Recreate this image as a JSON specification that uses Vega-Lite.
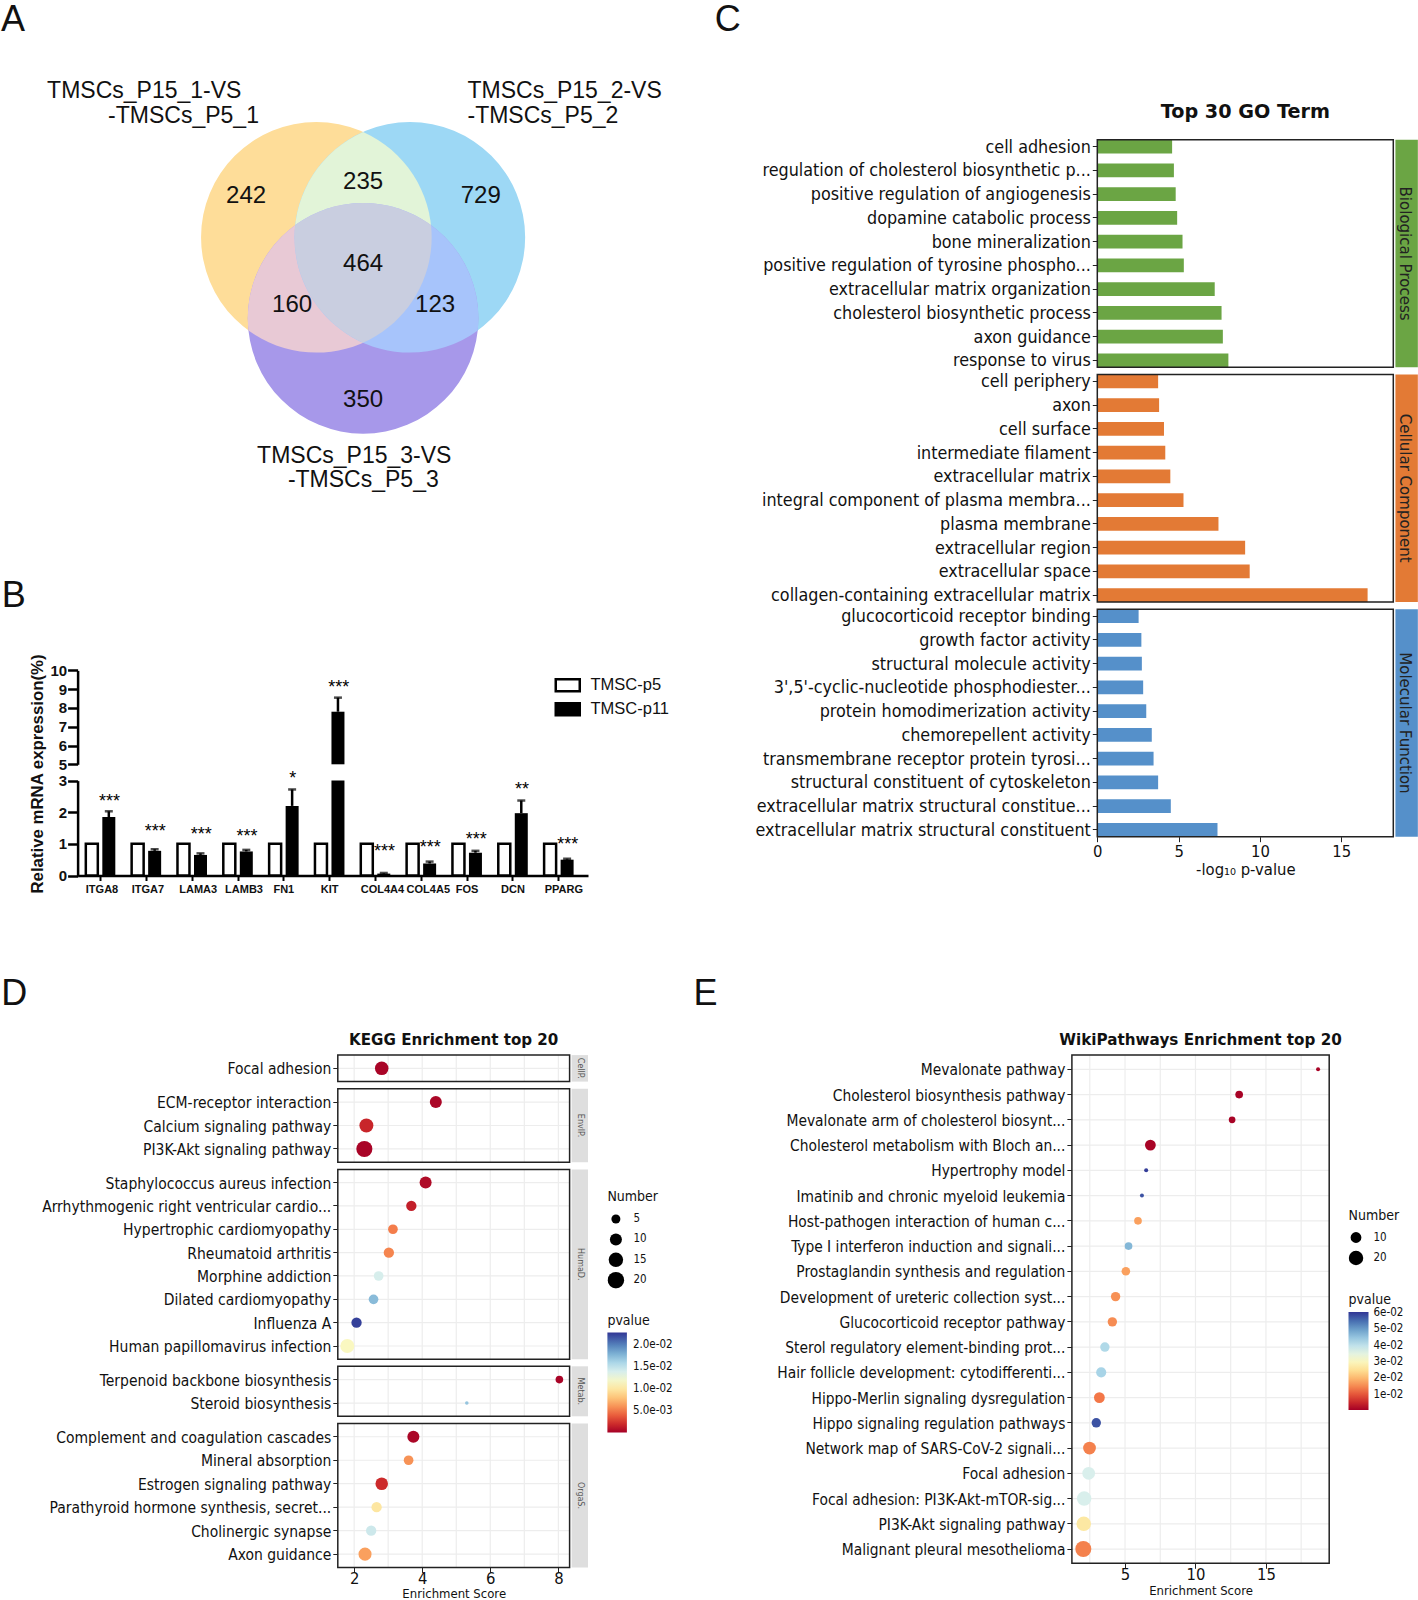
{
"$schema":"https://vega.github.io/schema/vega-lite/v6.json",
"width":1418,"height":1600,"padding":0,"autosize":{"type":"none"},"background":"white",
"config":{"view":{"stroke":null},
 "axis":{"grid":false,"domain":false,"labelFont":"DejaVu Sans Condensed","titleFont":"DejaVu Sans Condensed","labelFontSize":16.5,"titleFontSize":16.5,"titleFontWeight":"normal","labelColor":"#111","titleColor":"#111","tickColor":"#222","labelLimit":0,"labelOverlap":false,"labelFlush":false,"labelPadding":2,"tickSize":5},
 "axisY":{"labelOffset":1,"labelFontSize":17.8},
 "legend":{"labelFont":"DejaVu Sans Condensed","titleFont":"DejaVu Sans Condensed","labelColor":"#111","titleColor":"#111","titleFontWeight":"normal","titleFontSize":14,"labelFontSize":11.5}},
"datasets":{
 "page":[{"panel":"A","col":0.0092,"row":0.0125},{"panel":"B","col":0.0097,"row":0.3725},{"panel":"C","col":0.5133,"row":0.0125},{"panel":"D","col":0.0101,"row":0.6215},{"panel":"E","col":0.4975,"row":0.6212}],
 "sets":[{"set":"A","x":-46.75,"y":0},{"set":"B","x":46.75,"y":0},{"set":"C","x":0,"y":81}],
 "overlaps":[{"region":"AB","x":0,"y":0},{"region":"AC","x":0,"y":0},{"region":"BC","x":0,"y":0},{"region":"ABC","x":0,"y":0}],
 "vennCounts":[{"t":"242","x":-117,"y":-41},{"t":"235","x":0,"y":-55},{"t":"729","x":117.6,"y":-41},{"t":"464","x":0,"y":27},{"t":"160","x":-71,"y":68},{"t":"123","x":72,"y":68},{"t":"350","x":0,"y":163}],
 "vennNames":[{"t":"TMSCs_P15_1-VS","x":-316,"y":-146.5},{"t":"-TMSCs_P5_1","x":-255,"y":-121},{"t":"TMSCs_P15_2-VS","x":104.4,"y":-146.5},{"t":"-TMSCs_P5_2","x":104.4,"y":-121},{"t":"TMSCs_P15_3-VS","x":-106,"y":218.8},{"t":"-TMSCs_P5_3","x":-75.2,"y":242.3}],
 "qpcr":[
  {"gene":"ITGA8","series":"TMSC-p5","value":1},{"gene":"ITGA7","series":"TMSC-p5","value":1},{"gene":"LAMA3","series":"TMSC-p5","value":1},{"gene":"LAMB3","series":"TMSC-p5","value":1},{"gene":"FN1","series":"TMSC-p5","value":1},{"gene":"KIT","series":"TMSC-p5","value":1},{"gene":"COL4A4","series":"TMSC-p5","value":1},{"gene":"COL4A5","series":"TMSC-p5","value":1},{"gene":"FOS","series":"TMSC-p5","value":1},{"gene":"DCN","series":"TMSC-p5","value":1},{"gene":"PPARG","series":"TMSC-p5","value":1},
  {"gene":"ITGA8","series":"TMSC-p11","value":1.85,"upper":2.03},{"gene":"ITGA7","series":"TMSC-p11","value":0.78,"upper":0.83},{"gene":"LAMA3","series":"TMSC-p11","value":0.65,"upper":0.7},{"gene":"LAMB3","series":"TMSC-p11","value":0.76,"upper":0.81},{"gene":"FN1","series":"TMSC-p11","value":2.2,"upper":2.72},{"gene":"KIT","series":"TMSC-p11","value":7.8,"upper":8.55},{"gene":"COL4A4","series":"TMSC-p11","value":0.06,"upper":0.08},{"gene":"COL4A5","series":"TMSC-p11","value":0.38,"upper":0.44},{"gene":"FOS","series":"TMSC-p11","value":0.72,"upper":0.78},{"gene":"DCN","series":"TMSC-p11","value":1.97,"upper":2.37},{"gene":"PPARG","series":"TMSC-p11","value":0.5,"upper":0.53}],
 "stars":[{"gene":"ITGA8","s":"***","level":2.42},{"gene":"ITGA7","s":"***","level":1.48},{"gene":"LAMA3","s":"***","level":1.39},{"gene":"LAMB3","s":"***","level":1.32},{"gene":"FN1","s":"*","level":3.16},{"gene":"COL4A4","s":"***","level":0.84},{"gene":"COL4A5","s":"***","level":0.97},{"gene":"FOS","s":"***","level":1.23},{"gene":"DCN","s":"**","level":2.8},{"gene":"PPARG","s":"***","level":1.07}],
 "go":[
  {"group":"BP","term":"cell adhesion","value":4.6},{"group":"BP","term":"regulation of cholesterol biosynthetic p...","value":4.71},{"group":"BP","term":"positive regulation of angiogenesis","value":4.82},{"group":"BP","term":"dopamine catabolic process","value":4.91},{"group":"BP","term":"bone mineralization","value":5.24},{"group":"BP","term":"positive regulation of tyrosine phospho...","value":5.32},{"group":"BP","term":"extracellular matrix organization","value":7.22},{"group":"BP","term":"cholesterol biosynthetic process","value":7.64},{"group":"BP","term":"axon guidance","value":7.72},{"group":"BP","term":"response to virus","value":8.06},
  {"group":"CC","term":"cell periphery","value":3.74},{"group":"CC","term":"axon","value":3.8},{"group":"CC","term":"cell surface","value":4.1},{"group":"CC","term":"intermediate filament","value":4.18},{"group":"CC","term":"extracellular matrix","value":4.49},{"group":"CC","term":"integral component of plasma membra...","value":5.3},{"group":"CC","term":"plasma membrane","value":7.45},{"group":"CC","term":"extracellular region","value":9.09},{"group":"CC","term":"extracellular space","value":9.37},{"group":"CC","term":"collagen-containing extracellular matrix","value":16.62},
  {"group":"MF","term":"glucocorticoid receptor binding","value":2.54},{"group":"MF","term":"growth factor activity","value":2.71},{"group":"MF","term":"structural molecule activity","value":2.74},{"group":"MF","term":"3',5'-cyclic-nucleotide phosphodiester...","value":2.82},{"group":"MF","term":"protein homodimerization activity","value":3.01},{"group":"MF","term":"chemorepellent activity","value":3.35},{"group":"MF","term":"transmembrane receptor protein tyrosi...","value":3.46},{"group":"MF","term":"structural constituent of cytoskeleton","value":3.74},{"group":"MF","term":"extracellular matrix structural constitue...","value":4.52},{"group":"MF","term":"extracellular matrix structural constituent","value":7.39}],
 "kegg":[
  {"group":"CellP","term":"Focal adhesion","score":2.81,"number":13,"pvalue":0.0003},
  {"group":"EnvIP","term":"ECM-receptor interaction","score":4.4,"number":10,"pvalue":0.0004},{"group":"EnvIP","term":"Calcium signaling pathway","score":2.36,"number":14,"pvalue":0.0018},{"group":"EnvIP","term":"PI3K-Akt signaling pathway","score":2.3,"number":19,"pvalue":0.0003},
  {"group":"HumaD","term":"Staphylococcus aureus infection","score":4.1,"number":10,"pvalue":0.0006},{"group":"HumaD","term":"Arrhythmogenic right ventricular cardio...","score":3.68,"number":7,"pvalue":0.0015},{"group":"HumaD","term":"Hypertrophic cardiomyopathy","score":3.14,"number":6,"pvalue":0.0052},{"group":"HumaD","term":"Rheumatoid arthritis","score":3.02,"number":7,"pvalue":0.0055},{"group":"HumaD","term":"Morphine addiction","score":2.72,"number":6,"pvalue":0.014},{"group":"HumaD","term":"Dilated cardiomyopathy","score":2.57,"number":6,"pvalue":0.0175},{"group":"HumaD","term":"Influenza A","score":2.07,"number":7,"pvalue":0.0225},{"group":"HumaD","term":"Human papillomavirus infection","score":1.8,"number":14,"pvalue":0.0115},
  {"group":"Metab","term":"Terpenoid backbone biosynthesis","score":8.03,"number":4,"pvalue":0.0003},{"group":"Metab","term":"Steroid biosynthesis","score":5.31,"number":2,"pvalue":0.017},
  {"group":"OrgaS","term":"Complement and coagulation cascades","score":3.74,"number":10,"pvalue":0.0004},{"group":"OrgaS","term":"Mineral absorption","score":3.6,"number":6,"pvalue":0.006},{"group":"OrgaS","term":"Estrogen signaling pathway","score":2.81,"number":11,"pvalue":0.002},{"group":"OrgaS","term":"Parathyroid hormone synthesis, secret...","score":2.66,"number":7,"pvalue":0.01},{"group":"OrgaS","term":"Cholinergic synapse","score":2.5,"number":7,"pvalue":0.0145},{"group":"OrgaS","term":"Axon guidance","score":2.32,"number":12,"pvalue":0.0065}],
 "wiki":[
  {"term":"Mevalonate pathway","score":18.7,"number":3,"pvalue":0.001},{"term":"Cholesterol biosynthesis pathway","score":13.1,"number":6,"pvalue":0.001},{"term":"Mevalonate arm of cholesterol biosynt...","score":12.6,"number":5,"pvalue":0.001},{"term":"Cholesterol metabolism with Bloch an...","score":6.8,"number":10,"pvalue":0.001},{"term":"Hypertrophy model","score":6.5,"number":3,"pvalue":0.06},{"term":"Imatinib and chronic myeloid leukemia","score":6.2,"number":3,"pvalue":0.058},{"term":"Host-pathogen interaction of human c...","score":5.92,"number":6,"pvalue":0.0175},{"term":"Type I interferon induction and signali...","score":5.25,"number":6,"pvalue":0.047},{"term":"Prostaglandin synthesis and regulation","score":5.06,"number":7,"pvalue":0.0175},{"term":"Development of ureteric collection syst...","score":4.33,"number":8,"pvalue":0.016},{"term":"Glucocorticoid receptor pathway","score":4.1,"number":8,"pvalue":0.0155},{"term":"Sterol regulatory element-binding prot...","score":3.57,"number":8,"pvalue":0.042},{"term":"Hair follicle development: cytodifferenti...","score":3.31,"number":9,"pvalue":0.043},{"term":"Hippo-Merlin signaling dysregulation","score":3.18,"number":10,"pvalue":0.0135},{"term":"Hippo signaling regulation pathways","score":2.96,"number":8,"pvalue":0.058},{"term":"Network map of SARS-CoV-2 signali...","score":2.48,"number":15,"pvalue":0.0145},{"term":"Focal adhesion","score":2.42,"number":15,"pvalue":0.037},{"term":"Focal adhesion: PI3K-Akt-mTOR-sig...","score":2.1,"number":20,"pvalue":0.037},{"term":"PI3K-Akt signaling pathway","score":2.07,"number":20,"pvalue":0.027},{"term":"Malignant pleural mesothelioma","score":2.04,"number":25,"pvalue":0.0145}],
 "keggGrid":[{"v":2},{"v":3},{"v":4},{"v":5},{"v":6},{"v":7},{"v":8}],
 "wikiGrid":[{"v":2.5},{"v":5},{"v":7.5},{"v":10},{"v":12.5},{"v":15},{"v":17.5}]
},
"resolve":{"scale":{"x":"independent","y":"independent","color":"independent","fill":"independent","size":"independent","shape":"independent"},"axis":{"x":"independent","y":"independent"}},
"layer":[
 {"data":{"name":"page"},"mark":{"type":"text","font":"Liberation Sans","fontSize":36,"color":"#111"},
  "encoding":{"x":{"field":"col","type":"quantitative","scale":{"domain":[0,1],"range":[0,1418],"zero":false},"axis":null},"y":{"field":"row","type":"quantitative","scale":{"domain":[0,1],"range":[0,1600],"zero":false},"axis":null},"text":{"field":"panel"}}},

 {"layer":[
  {"data":{"name":"sets"},"mark":{"type":"point","filled":true,"opacity":1,"size":53176,"shape":"circle","strokeWidth":0},
   "encoding":{"x":{"field":"x","type":"quantitative","scale":{"domain":[-100,100],"range":[263.1,463.1],"zero":false},"axis":null},"y":{"field":"y","type":"quantitative","scale":{"domain":[-100,100],"range":[137.3,337.3],"zero":false},"axis":null},
    "fill":{"field":"set","scale":{"domain":["A","B","C","AB","AC","BC","ABC"],"range":["#FEDD99","#9DD8F5","#A798EA","#E2F4D8","#E8C9D5","#A7C4FB","#C9CEE0"]},"legend":null}}},
  {"data":{"name":"overlaps"},"mark":{"type":"point","filled":true,"opacity":1,"size":4,"strokeWidth":0},
   "encoding":{"x":{"field":"x","type":"quantitative","axis":null},"y":{"field":"y","type":"quantitative","axis":null},
    "shape":{"field":"region","scale":{"domain":["AB","AC","BC","ABC"],"range":["M0,-105.4A115.3,115.3 0 0,0 0,105.4A115.3,115.3 0 0,0 0,-105.4Z","M-114.66,93.2A115.3,115.3 0 0,1 67.9,-12.2A115.3,115.3 0 0,1 -114.66,93.2Z","M-67.9,-12.2A115.3,115.3 0 0,1 114.66,93.2A115.3,115.3 0 0,1 -67.9,-12.2Z","M-67.9,-12.2A115.3,115.3 0 0,1 67.9,-12.2A115.3,115.3 0 0,1 0,105.4A115.3,115.3 0 0,1 -67.9,-12.2Z"]},"legend":null},
    "fill":{"field":"region","legend":null}}},
  {"data":{"name":"vennCounts"},"mark":{"type":"text","font":"Liberation Sans","fontSize":24,"color":"#111"},
   "encoding":{"x":{"field":"x","type":"quantitative","axis":null},"y":{"field":"y","type":"quantitative","axis":null},"text":{"field":"t"}}},
  {"data":{"name":"vennNames"},"mark":{"type":"text","font":"Liberation Sans","fontSize":23,"align":"left","color":"#111"},
   "encoding":{"x":{"field":"x","type":"quantitative","axis":null},"y":{"field":"y","type":"quantitative","axis":null},"text":{"field":"t"}}}
 ]},

 {"data":{"name":"qpcr"},
  "encoding":{"x":{"field":"gene","type":"nominal","scale":{"domain":["ITGA8","ITGA7","LAMA3","LAMB3","FN1","KIT","COL4A4","COL4A5","FOS","DCN","PPARG"],"range":[77.6,588],"paddingInner":0,"paddingOuter":0.0685,"align":0},
    "axis":{"orient":"bottom","offset":-724.5,"title":null,"domain":true,"domainColor":"#000","domainWidth":2.5,"tickColor":"#000","tickWidth":2,"tickSize":5,"labelAngle":0,"labelFont":"Liberation Sans","labelFontWeight":"bold","labelFontSize":11,"labelColor":"#111","labelPadding":3,"labelOffset":{"condition":[{"test":"indexof(['COL4A4','COL4A5'],datum.value)>=0","value":7},{"test":"indexof(['LAMA3','LAMB3'],datum.value)>=0","value":6},{"test":"datum.value=='PPARG'","value":5},{"test":"indexof(['ITGA8','ITGA7'],datum.value)>=0","value":1.5}],"value":0}}},
   "y":{"field":"value","type":"quantitative","scale":{"domain":[0,3],"range":[875.5,780.6],"clamp":true,"nice":false},
    "axis":{"orient":"left","offset":-77.6,"values":[0,1,2,3],"title":"Relative mRNA expression(%)","titleFont":"Liberation Sans","titleFontWeight":"bold","titleFontSize":16.8,"titleX":-31.6,"titleY":773.5,"titleAngle":-90,"domain":true,"domainColor":"#000","domainWidth":2.5,"tickColor":"#000","tickWidth":2.5,"tickSize":10,"labelFont":"Liberation Sans","labelFontWeight":"bold","labelFontSize":15,"labelPadding":1,"labelOffset":0}}},
  "layer":[
   {"transform":[{"filter":"datum.series=='TMSC-p5'"}],"mark":{"type":"bar","width":12,"xOffset":-8.7,"stroke":"#000","strokeWidth":2.5},
    "encoding":{"fill":{"field":"series","scale":{"domain":["TMSC-p5","TMSC-p11"],"range":["#ffffff","#000000"]},
     "legend":{"orient":"none","legendX":559.5,"legendY":677,"title":null,"symbolType":"M-2,-1L2,-1L2,1L-2,1Z","symbolSize":144,"symbolStrokeColor":"#000","symbolStrokeWidth":2.5,"labelFont":"Liberation Sans","labelFontSize":16.5,"labelOffset":14.5,"rowPadding":1}}}},
   {"transform":[{"filter":"datum.series=='TMSC-p11'"}],"mark":{"type":"bar","width":13,"xOffset":8.3,"color":"#000"}},
   {"transform":[{"filter":"datum.series=='TMSC-p11' && datum.gene!='KIT'"}],"mark":{"type":"rule","xOffset":8.3,"color":"#000","strokeWidth":2.5},"encoding":{"y2":{"field":"upper"}}},
   {"transform":[{"filter":"datum.series=='TMSC-p11' && datum.gene!='KIT'"}],"mark":{"type":"tick","xOffset":8.3,"color":"#000","size":8,"thickness":2.5},"encoding":{"y":{"field":"upper","type":"quantitative"}}}
  ]},
 {"data":{"name":"qpcr"},"transform":[{"filter":"datum.value>5"}],
  "encoding":{"x":{"field":"gene","type":"nominal","scale":{"domain":["ITGA8","ITGA7","LAMA3","LAMB3","FN1","KIT","COL4A4","COL4A5","FOS","DCN","PPARG"],"range":[77.6,588],"paddingInner":0,"paddingOuter":0.0685,"align":0},"axis":null},
   "y":{"field":"value","type":"quantitative","scale":{"domain":[5,10],"range":[764.3,670.4],"clamp":true,"zero":false,"nice":false},
    "axis":{"orient":"left","offset":-77.6,"values":[5,6,7,8,9,10],"title":null,"domain":true,"domainColor":"#000","domainWidth":2.5,"tickColor":"#000","tickWidth":2.5,"tickSize":10,"labelFont":"Liberation Sans","labelFontWeight":"bold","labelFontSize":15,"labelPadding":1,"labelOffset":0}}},
  "layer":[
   {"mark":{"type":"bar","width":13,"xOffset":8.3,"color":"#000"},"encoding":{"y2":{"datum":5}}},
   {"mark":{"type":"rule","xOffset":8.3,"color":"#000","strokeWidth":2.5},"encoding":{"y2":{"field":"upper"}}},
   {"mark":{"type":"tick","xOffset":8.3,"color":"#000","size":8,"thickness":2.5},"encoding":{"y":{"field":"upper","type":"quantitative"}}},
   {"mark":{"type":"text","xOffset":9,"dy":-10,"text":"***","font":"Liberation Sans","fontSize":18,"color":"#000"},"encoding":{"y":{"field":"upper","type":"quantitative"}}}
  ]},
 {"data":{"name":"stars"},"mark":{"type":"text","xOffset":9,"dy":3,"font":"Liberation Sans","fontSize":18,"color":"#000"},
  "encoding":{"x":{"field":"gene","type":"nominal","scale":{"type":"band","domain":["ITGA8","ITGA7","LAMA3","LAMB3","FN1","KIT","COL4A4","COL4A5","FOS","DCN","PPARG"],"range":[77.6,588],"paddingInner":0,"paddingOuter":0.0685,"align":0},"axis":null},
   "y":{"field":"level","type":"quantitative","scale":{"domain":[0,3],"range":[875.5,780.6],"nice":false},"axis":null},"text":{"field":"s"}}},

 {"data":{"name":"go"},"transform":[{"filter":"datum.group=='BP'"}],"mark":{"type":"bar","color":"#6BA544"},
  "encoding":{"x":{"field":"value","type":"quantitative","scale":{"domain":[0,18.2],"range":[1097.3,1393.3],"nice":false},"axis":null},
   "y":{"field":"term","type":"nominal","sort":null,"scale":{"range":[139.8,367.3],"paddingInner":0.42,"paddingOuter":0},"axis":{"orient":"left","offset":-1097.3,"title":null}}}},
 {"data":{"name":"go"},"transform":[{"filter":"datum.group=='CC'"}],"mark":{"type":"bar","color":"#E37A35"},
  "encoding":{"x":{"field":"value","type":"quantitative","scale":{"domain":[0,18.2],"range":[1097.3,1393.3],"nice":false},"axis":null},
   "y":{"field":"term","type":"nominal","sort":null,"scale":{"range":[374.5,602],"paddingInner":0.42,"paddingOuter":0},"axis":{"orient":"left","offset":-1097.3,"title":null}}}},
 {"data":{"name":"go"},"transform":[{"filter":"datum.group=='MF'"}],"mark":{"type":"bar","color":"#5590CA"},
  "encoding":{"x":{"field":"value","type":"quantitative","scale":{"domain":[0,18.2],"range":[1097.3,1393.3],"nice":false},"axis":{"orient":"bottom","offset":-763.3,"values":[0,5,10,15],"title":"-log₁₀ p-value","titlePadding":1,"labelPadding":2}},
   "y":{"field":"term","type":"nominal","sort":null,"scale":{"range":[609.2,836.7],"paddingInner":0.42,"paddingOuter":0},"axis":{"orient":"left","offset":-1097.3,"title":null}}}},
 {"data":{"values":[{"t":"Biological Process"}]},"layer":[
  {"mark":{"type":"rect","color":"#6BA544"},"encoding":{"x":{"datum":18.33,"scale":{"domain":[0,18.2],"range":[1097.3,1393.3],"nice":false},"axis":null},"x2":{"datum":19.71},"y":{"datum":0,"scale":{"domain":[0,1],"range":[139.8,367.3],"zero":false},"axis":null},"y2":{"datum":1}}},
  {"mark":{"type":"rect","fillOpacity":0,"stroke":"#222","strokeWidth":1.5},"encoding":{"x":{"datum":0,"axis":null},"x2":{"datum":18.2},"y":{"datum":0,"axis":null},"y2":{"datum":1}}},
  {"mark":{"type":"text","angle":90,"font":"DejaVu Sans","fontSize":15,"color":"#222"},"encoding":{"x":{"datum":18.9,"axis":null},"y":{"datum":0.5,"axis":null},"text":{"field":"t"}}},
  {"mark":{"type":"text","text":"Top 30 GO Term","font":"DejaVu Sans","fontWeight":"bold","fontSize":19.2,"color":"#111"},"encoding":{"x":{"datum":9.1,"axis":null},"y":{"datum":-0.122,"axis":null}}}
 ]},
 {"data":{"values":[{"t":"Cellular Component"}]},"layer":[
  {"mark":{"type":"rect","color":"#E37A35"},"encoding":{"x":{"datum":18.33,"scale":{"domain":[0,18.2],"range":[1097.3,1393.3],"nice":false},"axis":null},"x2":{"datum":19.71},"y":{"datum":0,"scale":{"domain":[0,1],"range":[374.5,602],"zero":false},"axis":null},"y2":{"datum":1}}},
  {"mark":{"type":"rect","fillOpacity":0,"stroke":"#222","strokeWidth":1.5},"encoding":{"x":{"datum":0,"axis":null},"x2":{"datum":18.2},"y":{"datum":0,"axis":null},"y2":{"datum":1}}},
  {"mark":{"type":"text","angle":90,"font":"DejaVu Sans","fontSize":15,"color":"#222"},"encoding":{"x":{"datum":18.9,"axis":null},"y":{"datum":0.5,"axis":null},"text":{"field":"t"}}}
 ]},
 {"data":{"values":[{"t":"Molecular Function"}]},"layer":[
  {"mark":{"type":"rect","color":"#5590CA"},"encoding":{"x":{"datum":18.33,"scale":{"domain":[0,18.2],"range":[1097.3,1393.3],"nice":false},"axis":null},"x2":{"datum":19.71},"y":{"datum":0,"scale":{"domain":[0,1],"range":[609.2,836.7],"zero":false},"axis":null},"y2":{"datum":1}}},
  {"mark":{"type":"rect","fillOpacity":0,"stroke":"#222","strokeWidth":1.5},"encoding":{"x":{"datum":0,"axis":null},"x2":{"datum":18.2},"y":{"datum":0,"axis":null},"y2":{"datum":1}}},
  {"mark":{"type":"text","angle":90,"font":"DejaVu Sans","fontSize":15,"color":"#222"},"encoding":{"x":{"datum":18.9,"axis":null},"y":{"datum":0.5,"axis":null},"text":{"field":"t"}}}
 ]},

 {"layer":[
  {"data":{"name":"keggGrid"},"mark":{"type":"rule","color":"#EDEDED","strokeWidth":1.2},"encoding":{"x":{"field":"v","type":"quantitative","scale":{"domain":[1.52,8.33],"range":[337.8,569.6],"zero":false,"nice":false},"axis":null},"y":{"datum":0,"scale":{"domain":[0,1],"range":[1055.1,1081.6],"zero":false},"axis":null},"y2":{"datum":1}}},
  {"data":{"values":[{"t":"CellP."}]},"mark":{"type":"rect","color":"#DEDEDE"},"encoding":{"x":{"datum":8.389,"axis":null},"x2":{"datum":8.871},"y":{"datum":0,"axis":null},"y2":{"datum":1}}},
  {"data":{"values":[{"t":"CellP."}]},"mark":{"type":"text","angle":90,"font":"DejaVu Sans","fontSize":8,"color":"#555"},"encoding":{"x":{"datum":8.63,"axis":null},"y":{"datum":0.5,"axis":null},"text":{"field":"t"}}},
  {"data":{"values":[{"t":"KEGG Enrichment top 20"}]},"mark":{"type":"text","font":"DejaVu Sans","fontWeight":"bold","fontSize":15.1,"color":"#111"},"encoding":{"x":{"datum":4.925,"axis":null},"y":{"datum":-0.577,"axis":null},"text":{"field":"t"}}}
 ]},
 {"layer":[
  {"data":{"name":"keggGrid"},"mark":{"type":"rule","color":"#EDEDED","strokeWidth":1.2},"encoding":{"x":{"field":"v","type":"quantitative","scale":{"domain":[1.52,8.33],"range":[337.8,569.6],"zero":false,"nice":false},"axis":null},"y":{"datum":0,"scale":{"domain":[0,1],"range":[1088.8,1162.2],"zero":false},"axis":null},"y2":{"datum":1}}},
  {"data":{"values":[{"t":"EnvIP."}]},"mark":{"type":"rect","color":"#DEDEDE"},"encoding":{"x":{"datum":8.389,"axis":null},"x2":{"datum":8.871},"y":{"datum":0,"axis":null},"y2":{"datum":1}}},
  {"data":{"values":[{"t":"EnvIP."}]},"mark":{"type":"text","angle":90,"font":"DejaVu Sans","fontSize":8,"color":"#555"},"encoding":{"x":{"datum":8.63,"axis":null},"y":{"datum":0.5,"axis":null},"text":{"field":"t"}}}
 ]},
 {"layer":[
  {"data":{"name":"keggGrid"},"mark":{"type":"rule","color":"#EDEDED","strokeWidth":1.2},"encoding":{"x":{"field":"v","type":"quantitative","scale":{"domain":[1.52,8.33],"range":[337.8,569.6],"zero":false,"nice":false},"axis":null},"y":{"datum":0,"scale":{"domain":[0,1],"range":[1169.4,1359.2],"zero":false},"axis":null},"y2":{"datum":1}}},
  {"data":{"values":[{"t":"HumaD."}]},"mark":{"type":"rect","color":"#DEDEDE"},"encoding":{"x":{"datum":8.389,"axis":null},"x2":{"datum":8.871},"y":{"datum":0,"axis":null},"y2":{"datum":1}}},
  {"data":{"values":[{"t":"HumaD."}]},"mark":{"type":"text","angle":90,"font":"DejaVu Sans","fontSize":8,"color":"#555"},"encoding":{"x":{"datum":8.63,"axis":null},"y":{"datum":0.5,"axis":null},"text":{"field":"t"}}}
 ]},
 {"layer":[
  {"data":{"name":"keggGrid"},"mark":{"type":"rule","color":"#EDEDED","strokeWidth":1.2},"encoding":{"x":{"field":"v","type":"quantitative","scale":{"domain":[1.52,8.33],"range":[337.8,569.6],"zero":false,"nice":false},"axis":null},"y":{"datum":0,"scale":{"domain":[0,1],"range":[1366.3,1416.3],"zero":false},"axis":null},"y2":{"datum":1}}},
  {"data":{"values":[{"t":"Metab."}]},"mark":{"type":"rect","color":"#DEDEDE"},"encoding":{"x":{"datum":8.389,"axis":null},"x2":{"datum":8.871},"y":{"datum":0,"axis":null},"y2":{"datum":1}}},
  {"data":{"values":[{"t":"Metab."}]},"mark":{"type":"text","angle":90,"font":"DejaVu Sans","fontSize":8,"color":"#555"},"encoding":{"x":{"datum":8.63,"axis":null},"y":{"datum":0.5,"axis":null},"text":{"field":"t"}}}
 ]},
 {"layer":[
  {"data":{"name":"keggGrid"},"mark":{"type":"rule","color":"#EDEDED","strokeWidth":1.2},"encoding":{"x":{"field":"v","type":"quantitative","scale":{"domain":[1.52,8.33],"range":[337.8,569.6],"zero":false,"nice":false},"axis":null},"y":{"datum":0,"scale":{"domain":[0,1],"range":[1423.5,1567.4],"zero":false},"axis":null},"y2":{"datum":1}}},
  {"data":{"values":[{"t":"OrgaS."}]},"mark":{"type":"rect","color":"#DEDEDE"},"encoding":{"x":{"datum":8.389,"axis":null},"x2":{"datum":8.871},"y":{"datum":0,"axis":null},"y2":{"datum":1}}},
  {"data":{"values":[{"t":"OrgaS."}]},"mark":{"type":"text","angle":90,"font":"DejaVu Sans","fontSize":8,"color":"#555"},"encoding":{"x":{"datum":8.63,"axis":null},"y":{"datum":0.5,"axis":null},"text":{"field":"t"}}}
 ]},

 {"data":{"name":"kegg"},"transform":[{"filter":"datum.group=='CellP'"}],
  "encoding":{"y":{"field":"term","type":"nominal","sort":null,"scale":{"range":[1055.1,1081.6],"paddingInner":0,"paddingOuter":0.065},"axis":{"orient":"left","offset":-337.8,"title":null,"labelFontSize":15.5}}},
  "layer":[
   {"mark":{"type":"rule","color":"#EDEDED","strokeWidth":1.2},"encoding":{"x":{"datum":1.52,"scale":{"domain":[1.52,8.33],"range":[337.8,569.6],"zero":false,"nice":false},"axis":null},"x2":{"datum":8.33}}},
   {"mark":{"type":"circle","opacity":1},"encoding":{"x":{"field":"score","type":"quantitative","axis":null},
     "color":{"field":"pvalue","type":"quantitative","scale":{"scheme":"redyellowblue","domain":[0.0001,0.0229],"zero":false},"legend":null},
     "size":{"field":"number","type":"quantitative","scale":{"domain":[2,5,20],"range":[13,81,272],"zero":false},"legend":null}}}]},
 {"data":{"name":"kegg"},"transform":[{"filter":"datum.group=='EnvIP'"}],
  "encoding":{"y":{"field":"term","type":"nominal","sort":null,"scale":{"range":[1088.8,1162.2],"paddingInner":0,"paddingOuter":0.065},"axis":{"orient":"left","offset":-337.8,"title":null,"labelFontSize":15.5}}},
  "layer":[
   {"mark":{"type":"rule","color":"#EDEDED","strokeWidth":1.2},"encoding":{"x":{"datum":1.52,"scale":{"domain":[1.52,8.33],"range":[337.8,569.6],"zero":false,"nice":false},"axis":null},"x2":{"datum":8.33}}},
   {"mark":{"type":"circle","opacity":1},"encoding":{"x":{"field":"score","type":"quantitative","axis":null},
     "color":{"field":"pvalue","type":"quantitative","scale":{"scheme":"redyellowblue","domain":[0.0001,0.0229],"zero":false},"legend":null},
     "size":{"field":"number","type":"quantitative","scale":{"domain":[2,5,20],"range":[13,81,272],"zero":false},"legend":null}}}]},
 {"data":{"name":"kegg"},"transform":[{"filter":"datum.group=='HumaD'"}],
  "encoding":{"y":{"field":"term","type":"nominal","sort":null,"scale":{"range":[1169.4,1359.2],"paddingInner":0,"paddingOuter":0.065},"axis":{"orient":"left","offset":-337.8,"title":null,"labelFontSize":15.5}}},
  "layer":[
   {"mark":{"type":"rule","color":"#EDEDED","strokeWidth":1.2},"encoding":{"x":{"datum":1.52,"scale":{"domain":[1.52,8.33],"range":[337.8,569.6],"zero":false,"nice":false},"axis":null},"x2":{"datum":8.33}}},
   {"mark":{"type":"circle","opacity":1},"encoding":{"x":{"field":"score","type":"quantitative","axis":null},
     "color":{"field":"pvalue","type":"quantitative","scale":{"scheme":"redyellowblue","domain":[0.0001,0.0229],"zero":false},
      "legend":{"orient":"none","legendX":607.4,"legendY":1313.5,"title":"pvalue","gradientLength":100,"gradientThickness":19.5,"labelOffset":6,"values":[0.005,0.01,0.015,0.02],"labelExpr":"replace(format(datum.value,'.1e'),'e-','e-0')"}},
     "size":{"field":"number","type":"quantitative","scale":{"domain":[2,5,20],"range":[13,81,272],"zero":false},
      "legend":{"orient":"none","legendX":607.4,"legendY":1190,"title":"Number","titlePadding":6.5,"values":[5,10,15,20],"symbolFillColor":"#000","symbolOpacity":1,"symbolStrokeWidth":0,"clipHeight":17,"rowPadding":3.4,"labelOffset":9}}}}]},
 {"data":{"name":"kegg"},"transform":[{"filter":"datum.group=='Metab'"}],
  "encoding":{"y":{"field":"term","type":"nominal","sort":null,"scale":{"range":[1366.3,1416.3],"paddingInner":0,"paddingOuter":0.065},"axis":{"orient":"left","offset":-337.8,"title":null,"labelFontSize":15.5}}},
  "layer":[
   {"mark":{"type":"rule","color":"#EDEDED","strokeWidth":1.2},"encoding":{"x":{"datum":1.52,"scale":{"domain":[1.52,8.33],"range":[337.8,569.6],"zero":false,"nice":false},"axis":null},"x2":{"datum":8.33}}},
   {"mark":{"type":"circle","opacity":1},"encoding":{"x":{"field":"score","type":"quantitative","axis":null},
     "color":{"field":"pvalue","type":"quantitative","scale":{"scheme":"redyellowblue","domain":[0.0001,0.0229],"zero":false},"legend":null},
     "size":{"field":"number","type":"quantitative","scale":{"domain":[2,5,20],"range":[13,81,272],"zero":false},"legend":null}}}]},
 {"data":{"name":"kegg"},"transform":[{"filter":"datum.group=='OrgaS'"}],
  "encoding":{"y":{"field":"term","type":"nominal","sort":null,"scale":{"range":[1423.5,1567.4],"paddingInner":0,"paddingOuter":0.065},"axis":{"orient":"left","offset":-337.8,"title":null,"labelFontSize":15.5}}},
  "layer":[
   {"mark":{"type":"rule","color":"#EDEDED","strokeWidth":1.2},"encoding":{"x":{"datum":1.52,"scale":{"domain":[1.52,8.33],"range":[337.8,569.6],"zero":false,"nice":false},"axis":{"orient":"bottom","offset":-32.6,"values":[2,4,6,8],"title":"Enrichment Score","labelPadding":-2,"titlePadding":1,"titleFontSize":13}},"x2":{"datum":8.33}}},
   {"mark":{"type":"circle","opacity":1},"encoding":{"x":{"field":"score","type":"quantitative","axis":{"orient":"bottom","offset":-32.6,"values":[2,4,6,8],"title":"Enrichment Score","labelPadding":-2,"titlePadding":1,"titleFontSize":13}},
     "color":{"field":"pvalue","type":"quantitative","scale":{"scheme":"redyellowblue","domain":[0.0001,0.0229],"zero":false},"legend":null},
     "size":{"field":"number","type":"quantitative","scale":{"domain":[2,5,20],"range":[13,81,272],"zero":false},"legend":null}}}]},
 {"data":{"values":[{"t":"CellP."}]},"mark":{"type":"rect","fillOpacity":0,"stroke":"#222","strokeWidth":1.5},"encoding":{"x":{"datum":0,"scale":{"domain":[0,1],"range":[337.8,569.6],"zero":false},"axis":null},"x2":{"datum":1},"y":{"datum":0,"scale":{"domain":[0,1],"range":[1055.1,1081.6],"zero":false},"axis":null},"y2":{"datum":1}}},
 {"data":{"values":[{"t":"EnvIP."}]},"mark":{"type":"rect","fillOpacity":0,"stroke":"#222","strokeWidth":1.5},"encoding":{"x":{"datum":0,"scale":{"domain":[0,1],"range":[337.8,569.6],"zero":false},"axis":null},"x2":{"datum":1},"y":{"datum":0,"scale":{"domain":[0,1],"range":[1088.8,1162.2],"zero":false},"axis":null},"y2":{"datum":1}}},
 {"data":{"values":[{"t":"HumaD."}]},"mark":{"type":"rect","fillOpacity":0,"stroke":"#222","strokeWidth":1.5},"encoding":{"x":{"datum":0,"scale":{"domain":[0,1],"range":[337.8,569.6],"zero":false},"axis":null},"x2":{"datum":1},"y":{"datum":0,"scale":{"domain":[0,1],"range":[1169.4,1359.2],"zero":false},"axis":null},"y2":{"datum":1}}},
 {"data":{"values":[{"t":"Metab."}]},"mark":{"type":"rect","fillOpacity":0,"stroke":"#222","strokeWidth":1.5},"encoding":{"x":{"datum":0,"scale":{"domain":[0,1],"range":[337.8,569.6],"zero":false},"axis":null},"x2":{"datum":1},"y":{"datum":0,"scale":{"domain":[0,1],"range":[1366.3,1416.3],"zero":false},"axis":null},"y2":{"datum":1}}},
 {"data":{"values":[{"t":"OrgaS."}]},"mark":{"type":"rect","fillOpacity":0,"stroke":"#222","strokeWidth":1.5},"encoding":{"x":{"datum":0,"scale":{"domain":[0,1],"range":[337.8,569.6],"zero":false},"axis":null},"x2":{"datum":1},"y":{"datum":0,"scale":{"domain":[0,1],"range":[1423.5,1567.4],"zero":false},"axis":null},"y2":{"datum":1}}},

 {"data":{"name":"wikiGrid"},"mark":{"type":"rule","color":"#EDEDED","strokeWidth":1.2},"encoding":{"x":{"field":"v","type":"quantitative","scale":{"domain":[1.23,19.49],"range":[1071.9,1329.2],"zero":false,"nice":false},"axis":null},"y":{"datum":0,"scale":{"domain":[0,1],"range":[1055.1,1563.3],"zero":false},"axis":null},"y2":{"datum":1}}},
 {"data":{"name":"wiki"},
  "encoding":{"y":{"field":"term","type":"nominal","sort":null,"scale":{"range":[1055.1,1563.3],"paddingInner":0,"paddingOuter":0.065},"axis":{"orient":"left","offset":-1071.9,"title":null,"labelFontSize":15.4}}},
  "layer":[
   {"mark":{"type":"rule","color":"#EDEDED","strokeWidth":1.2},"encoding":{"x":{"datum":1.23,"scale":{"domain":[1.23,19.49],"range":[1071.9,1329.2],"zero":false,"nice":false},"axis":{"orient":"bottom","offset":-36.7,"values":[5,10,15],"title":"Enrichment Score","labelPadding":-2,"titlePadding":2,"titleFontSize":13}},"x2":{"datum":19.49}}},
   {"mark":{"type":"circle","opacity":1},"encoding":{"x":{"field":"score","type":"quantitative","axis":{"orient":"bottom","offset":-36.7,"values":[5,10,15],"title":"Enrichment Score","labelPadding":-2,"titlePadding":2,"titleFontSize":13}},
     "color":{"field":"pvalue","type":"quantitative","scale":{"scheme":"redyellowblue","domain":[0.0006,0.0607],"zero":false},
      "legend":{"orient":"none","legendX":1348.5,"legendY":1293,"title":"pvalue","gradientLength":98,"gradientThickness":20,"labelOffset":5,"values":[0.01,0.02,0.03,0.04,0.05,0.06],"labelExpr":"replace(format(datum.value,'.0e'),'e-','e-0')"}},
     "size":{"field":"number","type":"quantitative","scale":{"domain":[3,10,20,26],"range":[16,117,210,266],"zero":false},
      "legend":{"orient":"none","legendX":1348.5,"legendY":1209,"title":"Number","titlePadding":6,"values":[10,20],"symbolFillColor":"#000","symbolOpacity":1,"symbolStrokeWidth":0,"clipHeight":17,"rowPadding":3.5,"labelOffset":10}}}}]},
 {"data":{"values":[{"t":"WikiPathways Enrichment top 20"}]},"layer":[
  {"mark":{"type":"rect","fillOpacity":0,"stroke":"#222","strokeWidth":1.5},"encoding":{"x":{"datum":0,"scale":{"domain":[0,1],"range":[1071.9,1329.2],"zero":false},"axis":null},"x2":{"datum":1},"y":{"datum":0,"scale":{"domain":[0,1],"range":[1055.1,1563.3],"zero":false},"axis":null},"y2":{"datum":1}}},
  {"mark":{"type":"text","font":"DejaVu Sans","fontWeight":"bold","fontSize":15.2,"color":"#111"},"encoding":{"x":{"datum":0.5,"axis":null},"y":{"datum":-0.03,"axis":null},"text":{"field":"t"}}}
 ]}
]
}
